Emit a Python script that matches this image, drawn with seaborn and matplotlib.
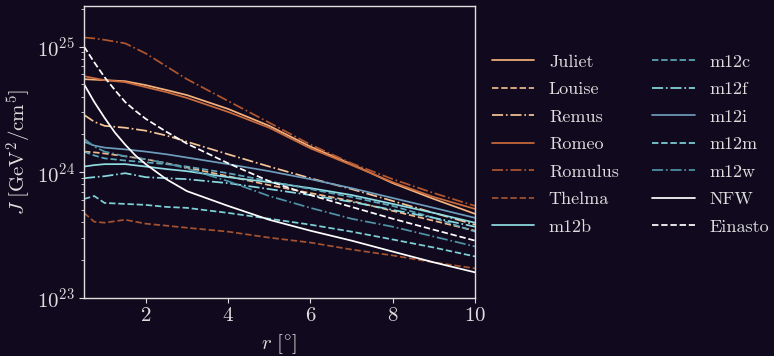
import numpy as np
import pandas as pd
import matplotlib
matplotlib.use("Agg")
import matplotlib.pyplot as plt
import seaborn as sns

r = [0.5, 0.75, 1, 1.5, 2, 2.5, 3, 4, 5, 6, 7, 8, 9, 10]
r_model = [0.5, 0.75, 1, 1.25, 1.5, 1.75, 2, 2.5, 3, 4, 5, 6, 7, 8, 9, 10]

juliet = [5.50e24, 5.45e24, 5.40e24, 5.30e24, 4.93e24, 4.51e24, 4.11e24, 3.19e24, 2.34e24, 1.60e24, 1.16e24, 8.19e23, 6.13e23, 4.67e23]
louise = [1.46e24, 1.44e24, 1.41e24, 1.34e24, 1.27e24, 1.18e24, 1.09e24, 9.30e23, 7.90e23, 6.83e23, 5.91e23, 4.93e23, 4.11e23, 3.43e23]
remus = [2.86e24, 2.52e24, 2.34e24, 2.26e24, 2.14e24, 1.96e24, 1.75e24, 1.39e24, 1.11e24, 8.97e23, 7.35e23, 5.91e23, 4.75e23, 3.83e23]
romeo = [5.81e24, 5.60e24, 5.40e24, 5.21e24, 4.75e24, 4.34e24, 3.90e24, 3.02e24, 2.26e24, 1.55e24, 1.14e24, 8.34e23, 6.35e23, 5.11e23]
romulus = [1.18e25, 1.16e25, 1.13e25, 1.06e25, 8.81e24, 6.96e24, 5.50e24, 3.69e24, 2.48e24, 1.66e24, 1.18e24, 8.81e23, 6.83e23, 5.40e23]
thelma = [4.75e23, 4.04e23, 3.97e23, 4.19e23, 3.90e23, 3.76e23, 3.62e23, 3.37e23, 3.02e23, 2.76e23, 2.43e23, 2.18e23, 1.92e23, 1.72e23]
m12b = [1.11e24, 1.14e24, 1.16e24, 1.16e24, 1.11e24, 1.06e24, 1.02e24, 9.14e23, 8.34e23, 7.48e23, 6.59e23, 5.60e23, 4.75e23, 3.97e23]
m12c = [1.46e24, 1.36e24, 1.29e24, 1.24e24, 1.20e24, 1.16e24, 1.11e24, 9.83e23, 8.49e23, 7.35e23, 6.35e23, 5.40e23, 4.34e23, 3.37e23]
m12f = [8.97e23, 9.14e23, 9.30e23, 9.83e23, 9.14e23, 8.97e23, 8.81e23, 8.19e23, 7.35e23, 6.59e23, 5.81e23, 5.02e23, 4.34e23, 3.69e23]
m12i = [1.75e24, 1.63e24, 1.57e24, 1.52e24, 1.46e24, 1.39e24, 1.31e24, 1.16e24, 1.02e24, 8.81e23, 7.48e23, 6.24e23, 5.21e23, 4.34e23]
m12m = [6.13e23, 6.47e23, 5.70e23, 5.60e23, 5.50e23, 5.30e23, 5.21e23, 4.75e23, 4.27e23, 3.83e23, 3.37e23, 2.92e23, 2.52e23, 2.14e23]
m12w = [1.85e24, 1.60e24, 1.46e24, 1.34e24, 1.27e24, 1.18e24, 1.07e24, 8.49e23, 6.47e23, 5.21e23, 4.27e23, 3.69e23, 3.08e23, 2.57e23]
nfw = [5.02e24, 3.62e24, 2.71e24, 2.07e24, 1.66e24, 1.36e24, 1.16e24, 8.81e23, 7.08e23, 5.40e23, 4.19e23, 3.43e23, 2.86e23, 2.34e23, 1.92e23, 1.60e23]
einasto = [1.00e25, 7.48e24, 5.70e24, 4.51e24, 3.62e24, 3.08e24, 2.66e24, 2.10e24, 1.69e24, 1.18e24, 8.49e23, 6.59e23, 5.30e23, 4.27e23, 3.49e23, 2.86e23]

names = ["Juliet", "Louise", "Remus", "Romeo", "Romulus", "Thelma",
         "m12b", "m12c", "m12f", "m12i", "m12m", "m12w", "NFW", "Einasto"]
series = [juliet, louise, remus, romeo, romulus, thelma,
          m12b, m12c, m12f, m12i, m12m, m12w, nfw, einasto]
colors = ["#f4b27c", "#f0b888", "#f3c597", "#c96a3c", "#b0552e", "#a4522f",
          "#8fdde3", "#5ea7b8", "#88d9df", "#6e9cbc", "#7dd2d8", "#4f93a6",
          "#ffffff", "#ffffff"]
styles = ["-", "--", "-.", "-", "-.", "--",
          "-", "--", "-.", "-", "--", "-.", "-", "--"]

bg = "#110a1f"
fg = "#dedede"

sns.set_theme(style="ticks")
plt.rcParams.update({
    "font.family": "serif",
    "font.serif": ["cmr10", "DejaVu Serif"],
    "mathtext.fontset": "cm",
    "axes.formatter.use_mathtext": True,
    "axes.unicode_minus": False,
    "figure.facecolor": bg,
    "axes.facecolor": bg,
    "savefig.facecolor": bg,
    "text.color": fg,
    "axes.labelcolor": fg,
    "xtick.color": fg,
    "ytick.color": fg,
    "axes.edgecolor": fg,
})

fig = plt.figure(figsize=(7.74, 3.56), dpi=100)
ax = fig.add_axes([84 / 774, 1 - 298 / 356, (475 - 84) / 774, (298 - 6) / 356])

for name, vals, c, ls in zip(names, series, colors, styles):
    xs = r_model if len(vals) == len(r_model) else r
    df = pd.DataFrame({"r": xs, "J": vals})
    sns.lineplot(data=df, x="r", y="J", color=c, linestyle=ls, linewidth=1.25,
                 label=name, ax=ax)

ax.set_yscale("log")
ax.set_xlim(0.5, 10)
ax.set_ylim(1e23, 2.1e25)
ax.set_xticks([2, 4, 6, 8, 10])
ax.set_xlabel(r"$r\ [^{\circ}]$", fontsize=15, labelpad=5)
ax.set_ylabel(r"$J\ [\mathrm{GeV}^2/\mathrm{cm}^5]$", fontsize=15, labelpad=2)
ax.tick_params(axis="both", which="major", labelsize=15, length=3.5, width=0.8, direction="out", pad=3)
ax.tick_params(axis="y", which="minor", length=2, width=0.6, direction="out")
for s in ax.spines.values():
    s.set_color(fg)
    s.set_linewidth(1.0)

leg = ax.legend(loc="upper left", bbox_to_anchor=(1.0435, 0.835), ncol=2, frameon=False,
                fontsize=13, handlelength=2.35, handletextpad=0.8, columnspacing=1.85,
                labelspacing=0.655, borderaxespad=0, borderpad=0)
for t in leg.get_texts():
    t.set_color(fg)

fig.savefig("out.png", dpi=100, facecolor=bg)
